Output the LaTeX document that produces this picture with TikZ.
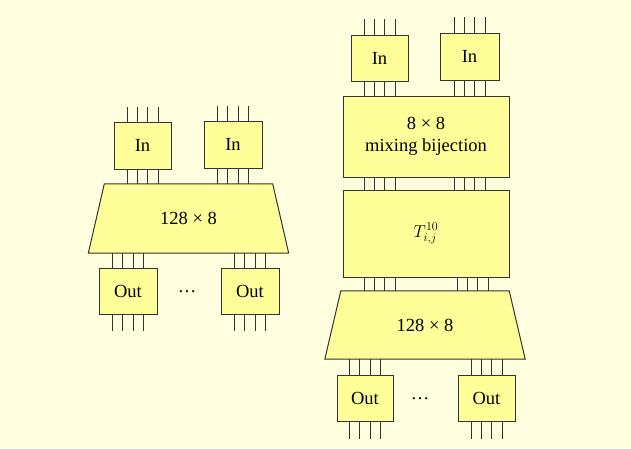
\documentclass[tikz,border=0pt]{standalone}
\usepackage{fontspec}
\setmainfont{Liberation Serif}
\usetikzlibrary{positioning,calc,backgrounds}
\definecolor{cream}{HTML}{FFFFE0}
\definecolor{boxfill}{HTML}{FFFF99}
\definecolor{edge}{HTML}{333333}
% four parallel wires between two nodes
\newcommand\wires[4]{%
  \foreach \d in {-15.5,-5.2,5.2,15.5}{%
    \path ([xshift=\d pt]#1.#2) coordinate (w);
    \draw[wire] (w) -- (w |- #3.#4);}}
% four free wire ends sticking out of a node
\newcommand\stubs[3]{%
  \foreach \d in {-15.5,-5.2,5.2,15.5}{%
    \path ([xshift=\d pt]#1.#2) coordinate (w);
    \draw[wire] (w) -- ++(0,#3);}}
% trapezoid outline behind a table node
\newcommand\tablebody[1]{%
  \begin{scope}[on background layer]
    \filldraw[draw=edge,fill=boxfill,line width=1pt,line join=miter]
      (#1.north west) -- (#1.north east) -- ([xshift=16pt]#1.south east)
      -- ([xshift=-16pt]#1.south west) -- cycle;
  \end{scope}}
\begin{document}
\begin{tikzpicture}[x=1pt,y=-1pt,
  every node/.style={font=\fontsize{18.5}{21.5}\selectfont},
  box/.style={draw=edge,fill=boxfill,line width=1pt,inner sep=0pt,align=center},
  tbl/.style={inner sep=0pt,minimum width=168pt,minimum height=68pt},
  wire/.style={draw=edge,line width=1pt}]
\begin{scope}[on background layer]
\fill[cream] (0,0) rectangle (631,448);
\end{scope}
\useasboundingbox (0,0) rectangle (631,448);
% left: plain table
\node[box,minimum width=57pt,minimum height=47pt] (inA) at (142.5,145.5) {In};
\node[box,minimum width=58pt,minimum height=47pt] (inB) at (233,144.5) {In};
\node[tbl,minimum height=69pt] (trapL) at (188.5,218.5) {128 × 8};
\tablebody{trapL}
\node[box,minimum width=58pt,minimum height=46pt] (outA) at (128,291) {Out};
\node[box,minimum width=58pt,minimum height=46pt] (outB) at (250,291) {Out};
\node (dotsL) at (187,292) {\dots};
\stubs{inA}{north}{-15}\stubs{inB}{north}{-15}
\wires{inA}{south}{trapL}{north}\wires{inB}{south}{trapL}{north}
\wires{outA}{north}{trapL}{south}\wires{outB}{north}{trapL}{south}
\stubs{outA}{south}{16}\stubs{outB}{south}{16}
% right: with mixing bijection
\node[box,minimum width=57pt,minimum height=46pt] (inC) at (379.5,58) {In};
\node[box,minimum width=59pt,minimum height=47pt] (inD) at (469.5,56.5) {In};
\node[box,minimum width=166pt,minimum height=81pt] (mix) at (426,136.5) {8 × 8\\mixing bijection};
\node[box,minimum width=166pt,minimum height=87pt] (tbox) at (426,233.5) {$T^{10}_{i,j}$};
\node[tbl] (trapR) at (425,325) {128 × 8};
\tablebody{trapR}
\node[box,minimum width=56pt,minimum height=46pt] (outC) at (365,398) {Out};
\node[box,minimum width=57pt,minimum height=46pt] (outD) at (486.5,398) {Out};
\node (dotsR) at (420,399) {\dots};
\stubs{inC}{north}{-16}\stubs{inD}{north}{-16}
\wires{inC}{south}{mix}{north}\wires{inD}{south}{mix}{north}
\foreach \d in {-15.5,-5.2,5.2,15.5}{
  \path ([xshift=\d pt]inC.south |- mix.south) coordinate (w);
  \draw[wire] (w) -- (w |- tbox.north);
  \path ([xshift=\d pt]inD.south |- mix.south) coordinate (w);
  \draw[wire] (w) -- (w |- tbox.north);
  \path ([xshift=\d pt]inC.south |- tbox.south) coordinate (w);
  \draw[wire] (w) -- (w |- trapR.north);
  \path ([xshift=\d pt]inD.south |- tbox.south) coordinate (w);
  \draw[wire] ([xshift=3pt]w) -- ([xshift=3pt]w |- trapR.north);
}
\wires{outC}{north}{trapR}{south}\wires{outD}{north}{trapR}{south}
\stubs{outC}{south}{17}\stubs{outD}{south}{17}
\end{tikzpicture}
\end{document}
